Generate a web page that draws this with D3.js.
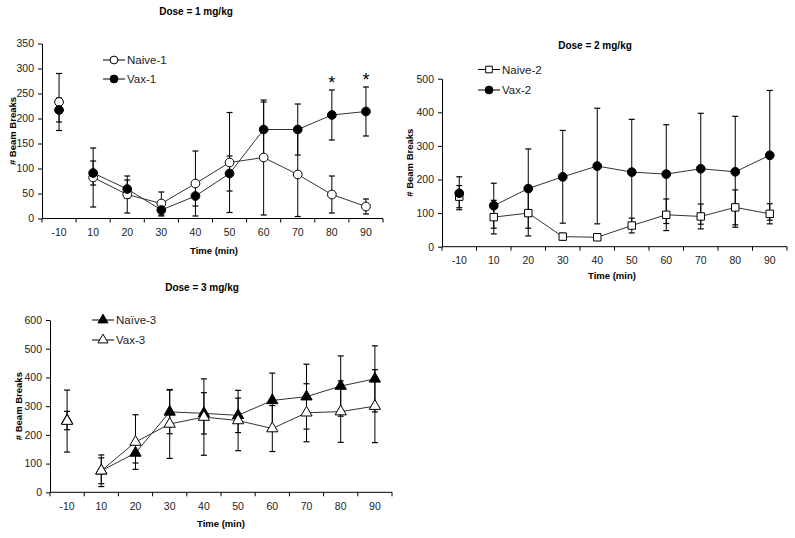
<!DOCTYPE html>
<html><head><meta charset="utf-8">
<script src="https://cdn.jsdelivr.net/npm/d3@7"></script>
<style>body{margin:0;background:#fff}svg{display:block}</style>
</head><body><svg id="c" width="795" height="538"></svg>
<script>
const categories = ["-10","10","20","30","40","50","60","70","80","90"];

const naive1 = [233, 82, 48, 30, 70, 112, 122, 88, 48, 24];
const naive1Err = [57, 59, 37, 23, 65, 100, 115, 84, 37, 15];
const vax1 = [217, 91, 59, 17, 45, 90, 178, 178, 207, 214];
const vax1Err = [24, 24, 18, 12, 20, 35, 55, 51, 50, 49];
const stars1 = ["80", "90"];

const naive2 = [149, 88, 100, 30, 28, 63, 95, 90, 117, 98];
const naive2Err = [33, 50, 68, 10, 8, 22, 47, 37, 52, 30];
const vax2 = [159, 122, 173, 208, 240, 222, 216, 232, 223, 272];
const vax2Err = [49, 67, 118, 138, 172, 157, 147, 165, 165, 193];

const naive3 = [250, 75, 137, 280, 275, 268, 320, 333, 370, 395];
const naive3Err = [32, 45, 35, 76, 72, 60, 95, 113, 105, 115];
const vax3 = [248, 75, 175, 238, 262, 250, 222, 277, 281, 300];
const vax3Err = [108, 55, 95, 120, 133, 105, 80, 101, 107, 127];

const ticks1 = [0,50,100,150,200,250,300,350];
const ticks2 = [0,100,200,300,400,500];
const ticks3 = [0,100,200,300,400,500,600];

const svg = d3.select("#c");
const FONT = "Liberation Sans, Arial, sans-serif";

function symbolPath(type, size){
  if(type==="circle") return d3.symbol(d3.symbolCircle, size)();
  if(type==="square") return d3.symbol(d3.symbolSquare, size)();
  return d3.symbol(d3.symbolTriangle, size)();
}

function panel(cfg){
  const g = svg.append("g");
  const x = d3.scaleBand().domain(categories).range([cfg.x0, cfg.x1]).padding(0);
  const y = d3.scaleLinear().domain([0, cfg.ymax]).range([cfg.y0, cfg.y1]);
  const cx = c => x(c) + x.bandwidth()/2;

  const ya = g.append("g").attr("transform", `translate(${cfg.x0},0)`)
    .call(d3.axisLeft(y).tickValues(cfg.ticks).tickSize(4).tickSizeOuter(0).tickPadding(4));
  ya.select(".domain").attr("stroke","#000");
  ya.selectAll("text").attr("font-family",FONT).attr("font-size",10.5).attr("fill","#222");
  const xa = g.append("g").attr("transform", `translate(0,${cfg.y0})`)
    .call(d3.axisBottom(x).tickSize(0).tickPadding(10));
  xa.select(".domain").attr("d", `M${cfg.x0},0H${cfg.x1}`).attr("stroke","#000");
  xa.selectAll("text").attr("font-family",FONT).attr("font-size",10.5).attr("fill","#222");
  g.append("g").selectAll("line").data(categories.concat(["end"])).join("line")
    .attr("x1", (d,i) => cfg.x0 + i*x.bandwidth()).attr("x2", (d,i) => cfg.x0 + i*x.bandwidth())
    .attr("y1", cfg.y0).attr("y2", cfg.y0+4).attr("stroke","#000");

  g.append("text").attr("x", cfg.tx).attr("y", cfg.ty).attr("text-anchor","middle")
    .attr("font-family",FONT).attr("font-weight","bold").attr("font-size",10).text(cfg.title);
  g.append("text").attr("x", cfg.xlx).attr("y", cfg.xly).attr("text-anchor","middle")
    .attr("font-family",FONT).attr("font-weight","bold").attr("font-size",9.5).text("Time (min)");
  g.append("text").attr("transform", `translate(${cfg.ylx},${(cfg.y0+cfg.y1)/2}) rotate(-90)`)
    .attr("text-anchor","middle").attr("font-family",FONT).attr("font-weight","bold").attr("font-size",9.5)
    .text("# Beam Breaks");

  cfg.series.forEach((s) => {
    const pts = categories.map((c,i) => ({c, v:s.values[i], e:s.errs[i]}));
    const eb = g.append("g");
    eb.selectAll("line.v").data(pts).join("line")
      .attr("x1", d=>cx(d.c)).attr("x2", d=>cx(d.c))
      .attr("y1", d=>y(Math.max(0,d.v-d.e))).attr("y2", d=>y(d.v+d.e)).attr("stroke","#000").attr("stroke-width",1);
    eb.selectAll("line.t").data(pts).join("line")
      .attr("x1", d=>cx(d.c)-3).attr("x2", d=>cx(d.c)+3)
      .attr("y1", d=>y(d.v+d.e)).attr("y2", d=>y(d.v+d.e)).attr("stroke","#000").attr("stroke-width",1.2);
    eb.selectAll("line.b").data(pts.filter(d=>d.v-d.e>0)).join("line")
      .attr("x1", d=>cx(d.c)-3).attr("x2", d=>cx(d.c)+3)
      .attr("y1", d=>y(d.v-d.e)).attr("y2", d=>y(d.v-d.e)).attr("stroke","#000").attr("stroke-width",1.2);
  });
  cfg.series.forEach((s) => {
    const pts = categories.map((c,i) => ({c, v:s.values[i]}));
    const line = d3.line().x(d=>cx(d.c)).y(d=>y(d.v));
    g.append("path").datum(pts.slice(1)).attr("d", line).attr("fill","none").attr("stroke","#333").attr("stroke-width",1);
    g.append("g").selectAll("path").data(pts).join("path")
      .attr("d", symbolPath(s.shape, s.size))
      .attr("transform", d=>`translate(${cx(d.c)},${y(d.v)})`)
      .attr("fill", s.filled ? "#000" : "#fff").attr("stroke","#000").attr("stroke-width",1);
  });
  cfg.series.forEach((s, i) => {
    const ly = cfg.ly + i*cfg.lgap;
    g.append("line").attr("x1", cfg.lx).attr("x2", cfg.lx+22).attr("y1", ly).attr("y2", ly).attr("stroke","#000");
    g.append("path").attr("d", symbolPath(s.shape, s.size*0.8)).attr("transform", `translate(${cfg.lx+11},${ly})`)
      .attr("fill", s.filled ? "#000" : "#fff").attr("stroke","#000");
    g.append("text").attr("x", cfg.lx+24).attr("y", ly+4).attr("font-family",FONT).attr("font-size",11.5)
      .attr("fill","#222").text(s.name);
  });
  return {g, x, y, cx};
}

const p1 = panel({
  x0:42, x1:383, y0:218.5, y1:43.5, ymax:350, ticks:ticks1,
  title:"Dose = 1 mg/kg", tx:196, ty:15, xlx:214, xly:254, ylx:16,
  lx:103, ly:60, lgap:19,
  series:[
    {name:"Naive-1", values:naive1, errs:naive1Err, shape:"circle", filled:false, size:60},
    {name:"Vax-1", values:vax1, errs:vax1Err, shape:"circle", filled:true, size:60}
  ]
});
p1.g.append("g").selectAll("text").data(stars1).join("text")
  .attr("x", d=>p1.cx(d)).attr("y", d=>p1.y(vax1[categories.indexOf(d)] + vax1Err[categories.indexOf(d)]) + 3)
  .attr("dy", -4).attr("text-anchor","middle").attr("font-family",FONT).attr("font-size",18).text("*");

panel({
  x0:442, x1:787, y0:246.7, y1:78.7, ymax:500, ticks:ticks2,
  title:"Dose = 2 mg/kg", tx:595, ty:49, xlx:612, xly:279, ylx:413,
  lx:478, ly:69.5, lgap:20.5,
  series:[
    {name:"Naive-2", values:naive2, errs:naive2Err, shape:"square", filled:false, size:55},
    {name:"Vax-2", values:vax2, errs:vax2Err, shape:"circle", filled:true, size:60}
  ]
});

panel({
  x0:50, x1:392, y0:492.3, y1:320, ymax:600, ticks:ticks3,
  title:"Dose = 3 mg/kg", tx:202, ty:291, xlx:221, xly:527, ylx:22,
  lx:92, ly:320, lgap:20,
  series:[
    {name:"Naïve-3", values:naive3, errs:naive3Err, shape:"triangle", filled:true, size:55},
    {name:"Vax-3", values:vax3, errs:vax3Err, shape:"triangle", filled:false, size:55}
  ]
});
</script></body></html>
